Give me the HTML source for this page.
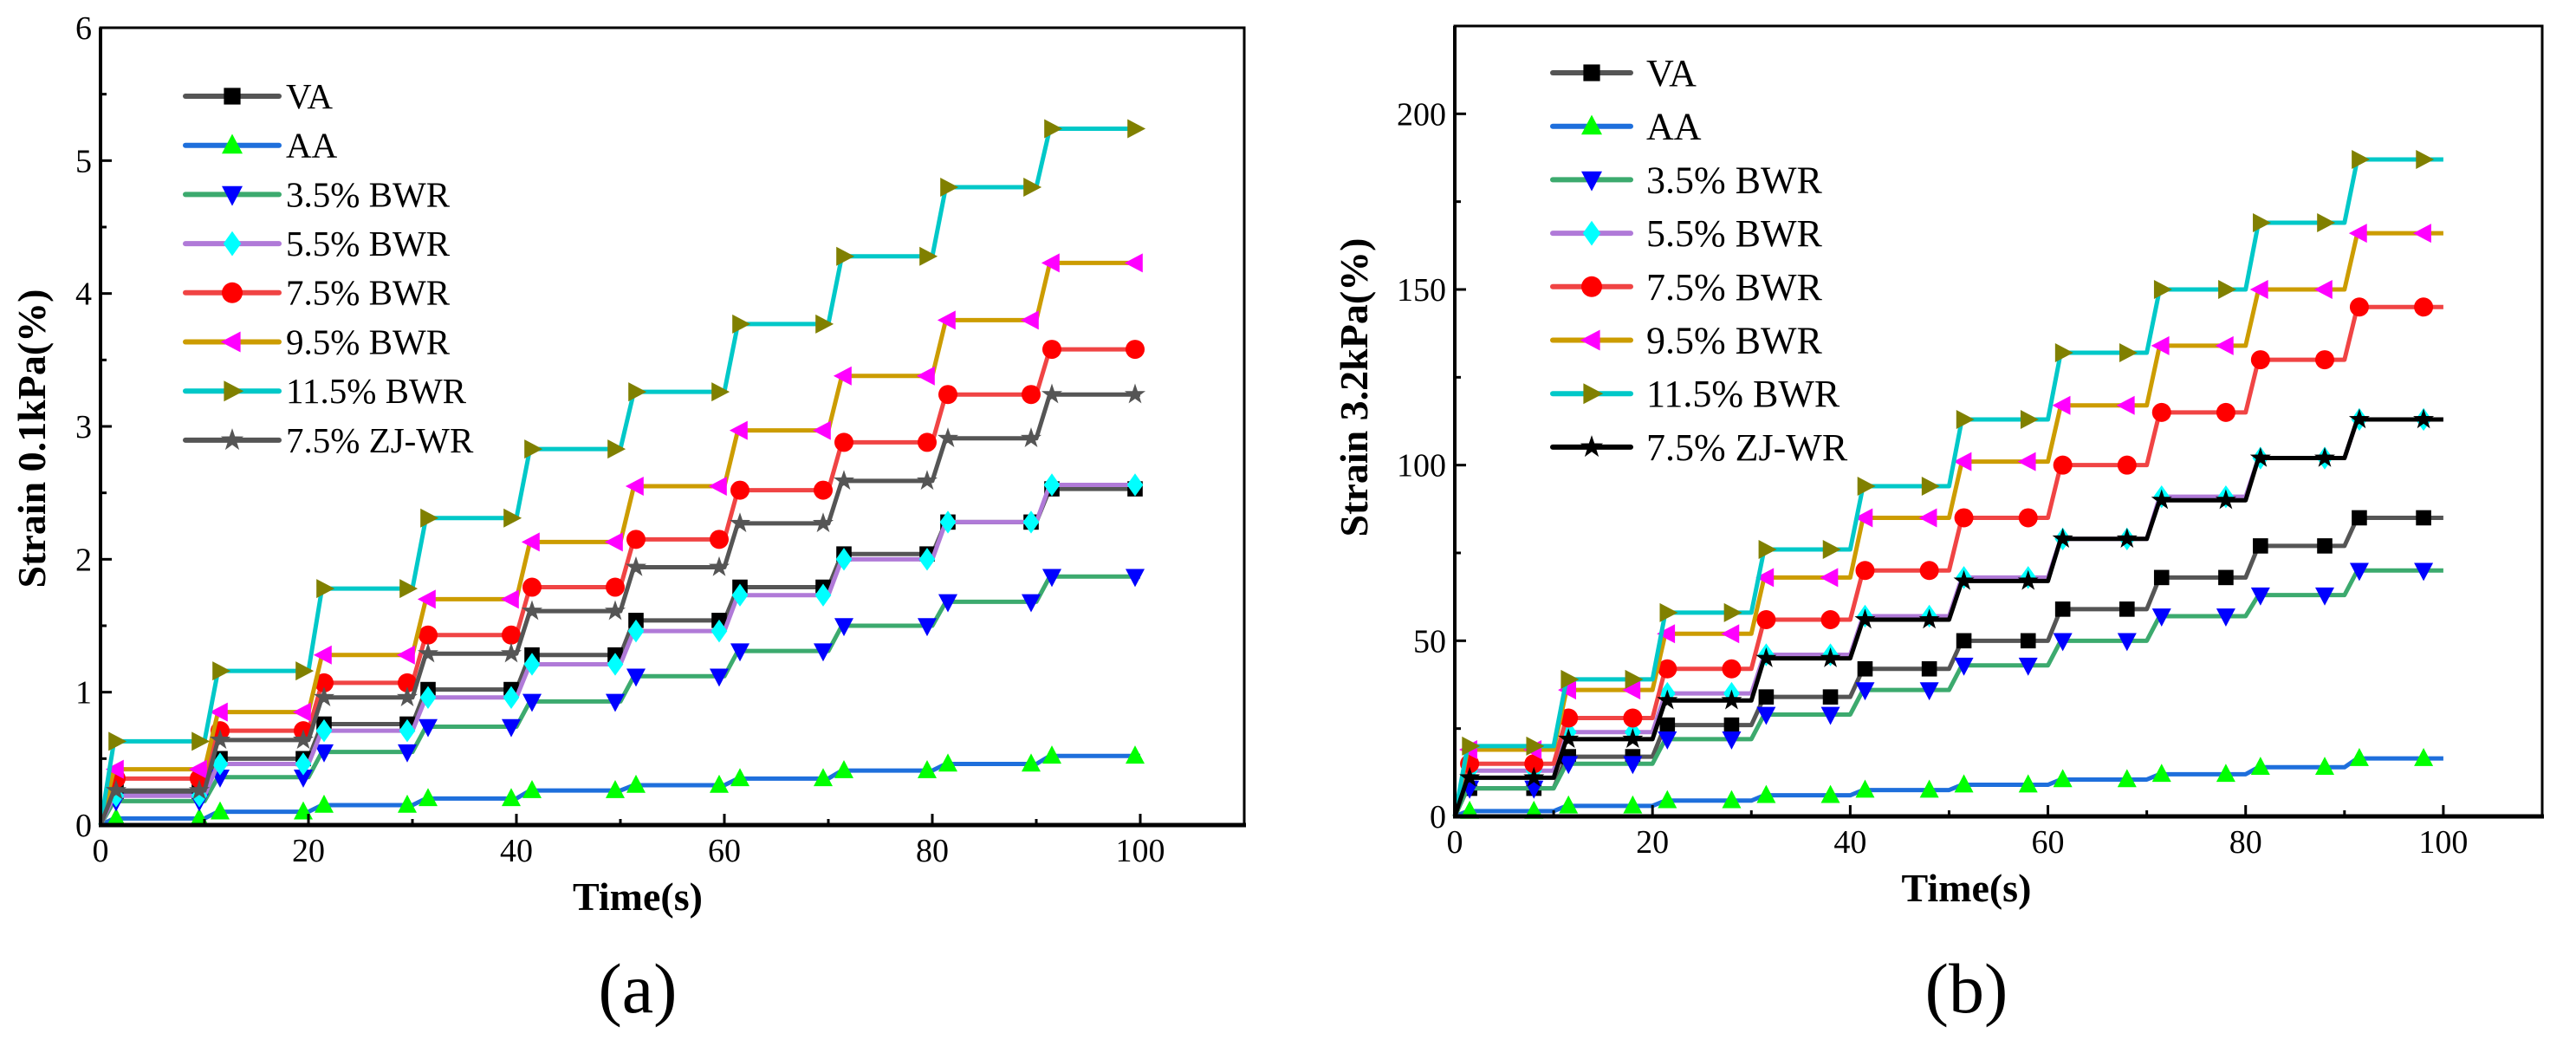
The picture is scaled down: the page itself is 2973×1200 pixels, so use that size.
<!DOCTYPE html>
<html><head><meta charset="utf-8"><style>
html,body{margin:0;padding:0;background:#fff}
svg{display:block}
text{font-family:"Liberation Serif",serif;fill:#000}
</style></head><body>
<svg id="fig" width="2973" height="1200" viewBox="0 0 2973 1200" xmlns="http://www.w3.org/2000/svg"></svg>
<script>
const seriesNames = ["VA","AA","3.5% BWR","5.5% BWR","7.5% BWR","9.5% BWR","11.5% BWR","7.5% ZJ-WR"];
const xTicks = [0,20,40,60,80,100];
const yTicksA = [0,1,2,3,4,5,6];
const yTicksB = [0,50,100,150,200];
// plateau levels for each 10 s interval (0-10 ... 90-100)
const levelsA_VA   = [0.25,0.50,0.76,1.02,1.28,1.54,1.79,2.04,2.28,2.53];
const levelsA_AA   = [0.05,0.10,0.15,0.20,0.26,0.30,0.35,0.41,0.46,0.52];
const levelsA_35   = [0.18,0.36,0.55,0.74,0.93,1.12,1.31,1.50,1.68,1.87];
const levelsA_55   = [0.22,0.46,0.71,0.96,1.21,1.46,1.73,2.00,2.28,2.56];
const levelsA_75   = [0.35,0.71,1.07,1.43,1.79,2.15,2.52,2.88,3.24,3.58];
const levelsA_95   = [0.42,0.85,1.28,1.70,2.13,2.55,2.97,3.38,3.80,4.23];
const levelsA_115  = [0.63,1.16,1.78,2.31,2.83,3.26,3.77,4.28,4.80,5.24];
const levelsA_ZJ   = [0.26,0.64,0.96,1.29,1.61,1.94,2.27,2.59,2.91,3.24];
const levelsB_VA   = [8,17,26,34,42,50,59,68,77,85];
const levelsB_AA   = [1.5,3,4.5,6,7.5,9,10.5,12,14,16.5];
const levelsB_35   = [8,15,22,29,36,43,50,57,63,70];
const levelsB_55   = [13,24,35,46,57,68,79,91,102,113];
const levelsB_75   = [15,28,42,56,70,85,100,115,130,145];
const levelsB_95   = [19,36,52,68,85,101,117,134,150,166];
const levelsB_115  = [20,39,58,76,94,113,132,150,169,187];
const levelsB_ZJ   = [11,22,33,45,56,67,79,90,102,113];

const lineColors = ["#555555","#1e6fdc","#3caa6e","#b07ad8","#f04444","#cc9c00","#00c8c8","#555555"];
const markColors = ["#000000","#00ff00","#0000ff","#00ffff","#ff0000","#ff00ff","#808000","#555555"];
const markShapes = ["square","up","down","diamond","circle","left","right","star"];

const NS="http://www.w3.org/2000/svg";
const svg=document.getElementById('fig');
function mk(tag,attrs,parent){const e=document.createElementNS(NS,tag);for(const k in attrs)e.setAttribute(k,attrs[k]);(parent||svg).appendChild(e);return e;}

function marker(g,shape,cx,cy,color,s){
  let e;
  const r=s;
  if(shape==="square"){e=mk('rect',{x:cx-r*0.8,y:cy-r*0.8,width:r*1.6,height:r*1.6,fill:color},g);}
  else if(shape==="circle"){e=mk('circle',{cx:cx,cy:cy,r:r,fill:color},g);}
  else{
    let pts;
    if(shape==="up")pts=[[0,-r*1.1],[r,r*0.8],[-r,r*0.8]];
    else if(shape==="down")pts=[[0,r*1.1],[r,-r*0.8],[-r,-r*0.8]];
    else if(shape==="left")pts=[[-r*1.1,0],[r*0.8,-r],[r*0.8,r]];
    else if(shape==="right")pts=[[r*1.1,0],[-r*0.8,-r],[-r*0.8,r]];
    else if(shape==="diamond")pts=[[0,-r*1.2],[r*0.85,0],[0,r*1.2],[-r*0.85,0]];
    else {pts=[];for(let i=0;i<10;i++){const a=-Math.PI/2+i*Math.PI/5;const rr=i%2?r*0.45:r*1.15;pts.push([rr*Math.cos(a),rr*Math.sin(a)]);}}
    e=mk('polygon',{points:pts.map(p=>(cx+p[0])+','+(cy+p[1])).join(' '),fill:color},g);
  }
  
  
}

function drawChart(cfg){
  const {x0,x1,y0,y1,ymax,yTicks,yMinor,levels,leg,ytitle,letter,ytitleX,ytitleY,lastBlack,markPos}=cfg;
  const xs=v=>x0+(x1-x0)*v/110;
  const ys=v=>y0-(y0-y1)*v/ymax;
  const g=mk('g',{});
  
  
  levels.forEach((lv,si)=>{
    const sg=mk('g',{},g);
    
    
    let d='M'+xs(0)+','+ys(0);
    lv.forEach((v,k)=>{
      d+=' L'+xs(k*10+1.3)+','+ys(v)+' L'+xs(k*10+10)+','+ys(v);
    });
    const col=(lastBlack&&si===7)?"#000":lineColors[si];
    const p=mk('path',{d:d,fill:'none',stroke:col,'stroke-width':5,'stroke-linejoin':'round'},sg);
    
    
    const mcol=(lastBlack&&si===7)?"#000":markColors[si];
    lv.forEach((v,k)=>{
      markPos.forEach(off=>{
        const t=k*10+off;
        marker(sg,markShapes[si],xs(t),ys(v),mcol,11);
      });
    });
  });
  const fr=mk('rect',{x:x0,y:y1,width:x1-x0,height:y0-y1,fill:'none',stroke:'#000','stroke-width':3},g);
  
  
  mk('line',{x1:x0-2,y1:y0,x2:x1+2,y2:y0,stroke:'#000','stroke-width':5},g);
  mk('line',{x1:x0,y1:y0+2,x2:x0,y2:y1,stroke:'#000','stroke-width':4},g);
  for(let v=0;v<=110;v+=10){
    const maj=v%20===0;
    mk('line',{x1:xs(v),y1:y0,x2:xs(v),y2:y0-(maj?13:7),stroke:'#000','stroke-width':3},g);
  }
  xTicks.forEach(v=>{
    const t=mk('text',{x:xs(v),y:y0+42,'font-size':38,'text-anchor':'middle'},g);
    t.textContent=v;
    
    
  });
  for(let v=0;v<=ymax+1e-9;v+=yMinor){
    const maj=yTicks.some(t=>Math.abs(t-v)<1e-9);
    mk('line',{x1:x0,y1:ys(v),x2:x0+(maj?13:7),y2:ys(v),stroke:'#000','stroke-width':3},g);
  }
  yTicks.forEach(v=>{
    const t=mk('text',{x:x0-10,y:ys(v)+13,'font-size':38,'text-anchor':'end'},g);
    t.textContent=v;
    
    
  });
  const xt=mk('text',{x:(x0+xs(100))/2+20,y:y0+98,'font-size':46,'font-weight':'bold','text-anchor':'middle'},g);
  xt.textContent='Time(s)';
  
  
  const yt=mk('text',{x:ytitleX,y:ytitleY,'font-size':46,'font-weight':'bold','text-anchor':'middle',transform:'rotate(-90 '+ytitleX+' '+ytitleY+')'},g);
  yt.textContent=ytitle;
  
  
  const lt=mk('text',{x:(x0+xs(100))/2+20,y:1168,'font-size':82,'text-anchor':'middle'},g);
  lt.textContent=letter;
  
  
  const lg=mk('g',{},g);
  
  
  seriesNames.forEach((n,i)=>{
    const yy=leg.y+i*leg.dy;
    const eg=mk('g',{},lg);
    
    
    const col=(lastBlack&&i===7)?"#000":lineColors[i];
    const mcol=(lastBlack&&i===7)?"#000":markColors[i];
    mk('line',{x1:leg.x,y1:yy,x2:leg.x+leg.w,y2:yy,stroke:col,'stroke-width':6,'stroke-linecap':'round'},eg);
    marker(eg,markShapes[i],leg.x+leg.w*0.5,yy,mcol,12);
    const t=mk('text',{x:leg.x+leg.w+leg.gap,y:yy+leg.fs*0.34,'font-size':leg.fs},eg);
    t.textContent=n;
  });
}

drawChart({name:'chart-a',x0:116,x1:1436,y0:952,y1:32,ymax:6,yTicks:yTicksA,yMinor:0.5,
  levels:[levelsA_VA,levelsA_AA,levelsA_35,levelsA_55,levelsA_75,levelsA_95,levelsA_115,levelsA_ZJ],
  leg:{x:214,y:111,dy:56.7,w:108,gap:8,fs:41},ytitle:'Strain 0.1kPa(%)',letter:'(a)',ytitleX:52,ytitleY:506,lastBlack:false,markPos:[1.5,9.5]});
drawChart({name:'chart-b',x0:1679,x1:2934,y0:942,y1:30,ymax:225,yTicks:yTicksB,yMinor:25,
  levels:[levelsB_VA,levelsB_AA,levelsB_35,levelsB_55,levelsB_75,levelsB_95,levelsB_115,levelsB_ZJ],
  leg:{x:1792,y:84,dy:61.7,w:90,gap:18,fs:44},ytitle:'Strain 3.2kPa(%)',letter:'(b)',ytitleX:1578,ytitleY:447,lastBlack:true,markPos:[1.5,8]});
</script>
</body></html>
